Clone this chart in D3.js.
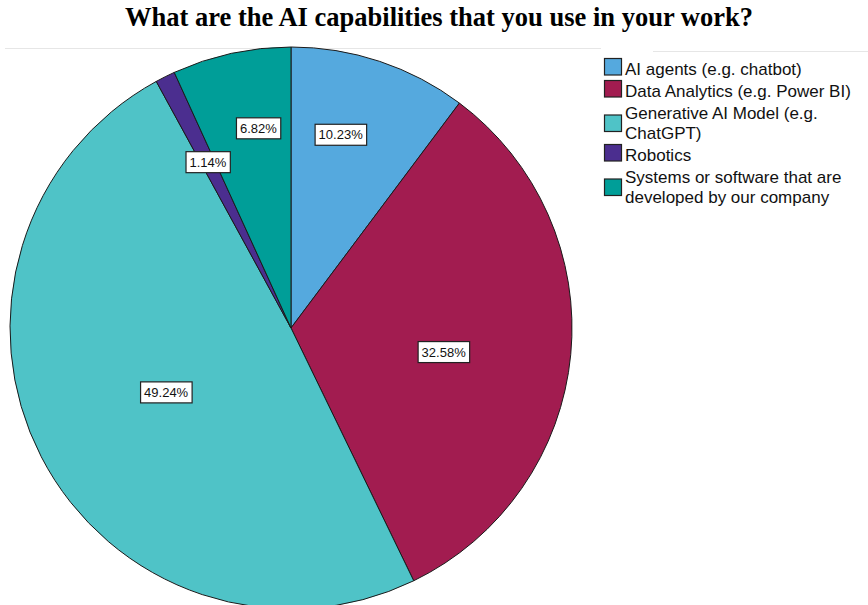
<!DOCTYPE html>
<html><head><meta charset="utf-8">
<script src="https://cdn.jsdelivr.net/npm/d3@7"></script>
<style>body{margin:0;background:#fff}svg{display:block}</style>
</head><body>
<svg id="c" width="868" height="605"></svg>
<script>
const title = "What are the AI capabilities that you use in your work?";
const categories = ["AI agents (e.g. chatbot)", "Data Analytics (e.g. Power BI)", "Generative AI Model (e.g. ChatGPT)", "Robotics", "Systems or software that are developed by our company"];
const legendLines = [["AI agents (e.g. chatbot)"], ["Data Analytics (e.g. Power BI)"], ["Generative AI Model (e.g.", "ChatGPT)"], ["Robotics"], ["Systems or software that are", "developed by our company"]];
const values = [10.23, 32.58, 49.24, 1.14, 6.82];
const labels = ["10.23%", "32.58%", "49.24%", "1.14%", "6.82%"];
const colors = ["#55a9de", "#a21c50", "#4fc3c7", "#4b2e8f", "#009e98"];
// label placement: fraction of radius and angle tweak (degrees)
const labelRadius = [0.71, 0.55, 0.50, 0.66, 0.72];
const labelAngleShift = [-4, 3.5, 0, 0, 3];

const svg = d3.select("#c");
const cx = 291, cy = 328, r = 281;

svg.append("line").attr("x1",5).attr("x2",601).attr("y1",48.5).attr("y2",48.5).attr("stroke","#e6e6e6");
svg.append("line").attr("x1",653).attr("x2",868).attr("y1",51.5).attr("y2",51.5).attr("stroke","#e6e6e6");

svg.append("text").attr("x",125).attr("y",26)
  .attr("font-family","'Liberation Serif','Times New Roman',serif").attr("font-weight","bold")
  .attr("font-size",26.5).attr("fill","#000")
  .attr("textLength",628).attr("lengthAdjust","spacingAndGlyphs").text(title);

const pie = d3.pie().value(d=>d).sort(null);
const arcs = pie(values);
const arc = d3.arc().innerRadius(0).outerRadius(r);
const g = svg.append("g").attr("transform",`translate(${cx},${cy})`);
g.selectAll("path").data(arcs).join("path").attr("d",arc)
  .attr("fill",(d,i)=>colors[i]).attr("stroke","#1a1a1a").attr("stroke-width",1);

arcs.forEach((d,i)=>{
  const a = (d.startAngle+d.endAngle)/2 + labelAngleShift[i]*Math.PI/180;
  const rr = r*labelRadius[i];
  const x = Math.sin(a)*rr, y = -Math.cos(a)*rr;
  const lg = g.append("g").attr("transform",`translate(${x},${y})`);
  const t = lg.append("text").attr("text-anchor","middle").attr("dy","0.35em")
    .attr("font-family","'Liberation Sans',Arial,sans-serif").attr("font-size",13).attr("fill","#111").text(labels[i]);
  const bb = t.node().getBBox();
  lg.insert("rect","text").attr("x",bb.x-3.5).attr("y",-10.5).attr("width",bb.width+7).attr("height",21)
    .attr("fill","#fff").attr("stroke","#222").attr("stroke-width",1.2);
});

// legend
const lx = 604, lineH = 20, gap = 22;
let y = 75;
const leg = svg.append("g");
legendLines.forEach((lines,i)=>{
  const n = lines.length;
  const last = y + (n-1)*lineH;
  let sy;
  if (n === 1) sy = y - 16.5; else sy = (y + last)/2 - 14;
  leg.append("rect").attr("x",lx+0.5).attr("y",sy).attr("width",17).attr("height",16.5)
    .attr("fill",colors[i]).attr("stroke","#222").attr("stroke-width",1.2);
  lines.forEach((s,j)=>{
    leg.append("text").attr("x",lx+21).attr("y",y+j*lineH)
      .attr("font-family","'Liberation Sans',Arial,sans-serif").attr("font-size",17).attr("fill","#111").text(s);
  });
  y = last + gap;
});
</script>
</body></html>
